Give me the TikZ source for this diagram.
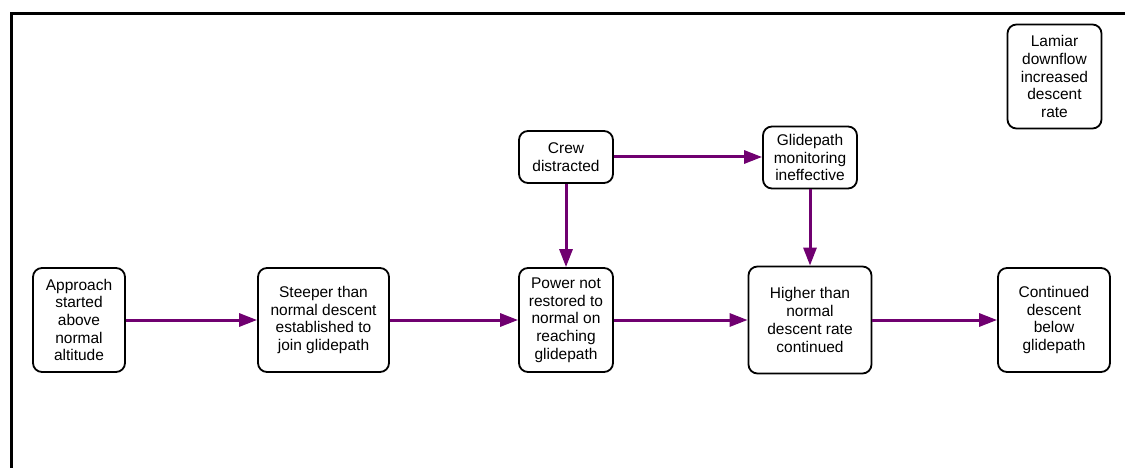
\documentclass[tikz,border=0pt]{standalone}
\usepackage{fontspec}
\setmainfont{Liberation Sans}
\usetikzlibrary{arrows.meta}
\definecolor{linkpurple}{RGB}{112,0,112}
\begin{document}
\begin{tikzpicture}[x=1pt,y=-1pt,
  event/.style={draw=black, line width=1.8pt, rounded corners=9pt, fill=white,
    align=center, inner sep=0pt, font=\fontsize{15.5}{17.7}\selectfont},
  link/.style={draw=linkpurple, line width=3pt,
    -{Triangle[length=18pt,width=13pt]}}]
\useasboundingbox (0,0) rectangle (1125,468);
% frame on the top and left sides
\draw[line width=2.6pt] (11.5,468) -- (11.5,13.5) -- (1125,13.5);

\node[event, minimum width=92pt, minimum height=104pt] (approach) at (79,320)
  {Approach\\started\\above\\normal\\altitude};
\node[event, minimum width=131pt, minimum height=104pt] (steeper) at (323.5,320)
  {Steeper than\\normal descent\\established to\\join glidepath};
\node[event, minimum width=94pt, minimum height=104pt] (power) at (566,320)
  {Power not\\restored to\\normal on\\reaching\\glidepath};
\node[event, minimum width=94pt, minimum height=52pt] (crew) at (566,157)
  {Crew\\distracted};
\node[event, minimum width=94pt, minimum height=62pt] (monitor) at (810,157.5)
  {Glidepath\\monitoring\\ineffective};
\node[event, minimum width=123pt, minimum height=107pt] (higher) at (810,320)
  {Higher than\\normal\\descent rate\\continued};
\node[event, minimum width=112pt, minimum height=104pt] (below) at (1054,320)
  {Continued\\descent\\below\\glidepath};
\node[event, minimum width=94pt, minimum height=104pt] (lamiar) at (1054.5,76.5)
  {Lamiar\\downflow\\increased\\descent\\rate};

\draw[link] (approach) -- (steeper);
\draw[link] (steeper) -- (power);
\draw[link] (power) -- (higher);
\draw[link] (higher) -- (below);
\draw[link] (crew) -- (power);
\draw[link] (crew.east) -- (crew.east -| monitor.west);
\draw[link] (monitor) -- (higher);
\end{tikzpicture}
\end{document}
